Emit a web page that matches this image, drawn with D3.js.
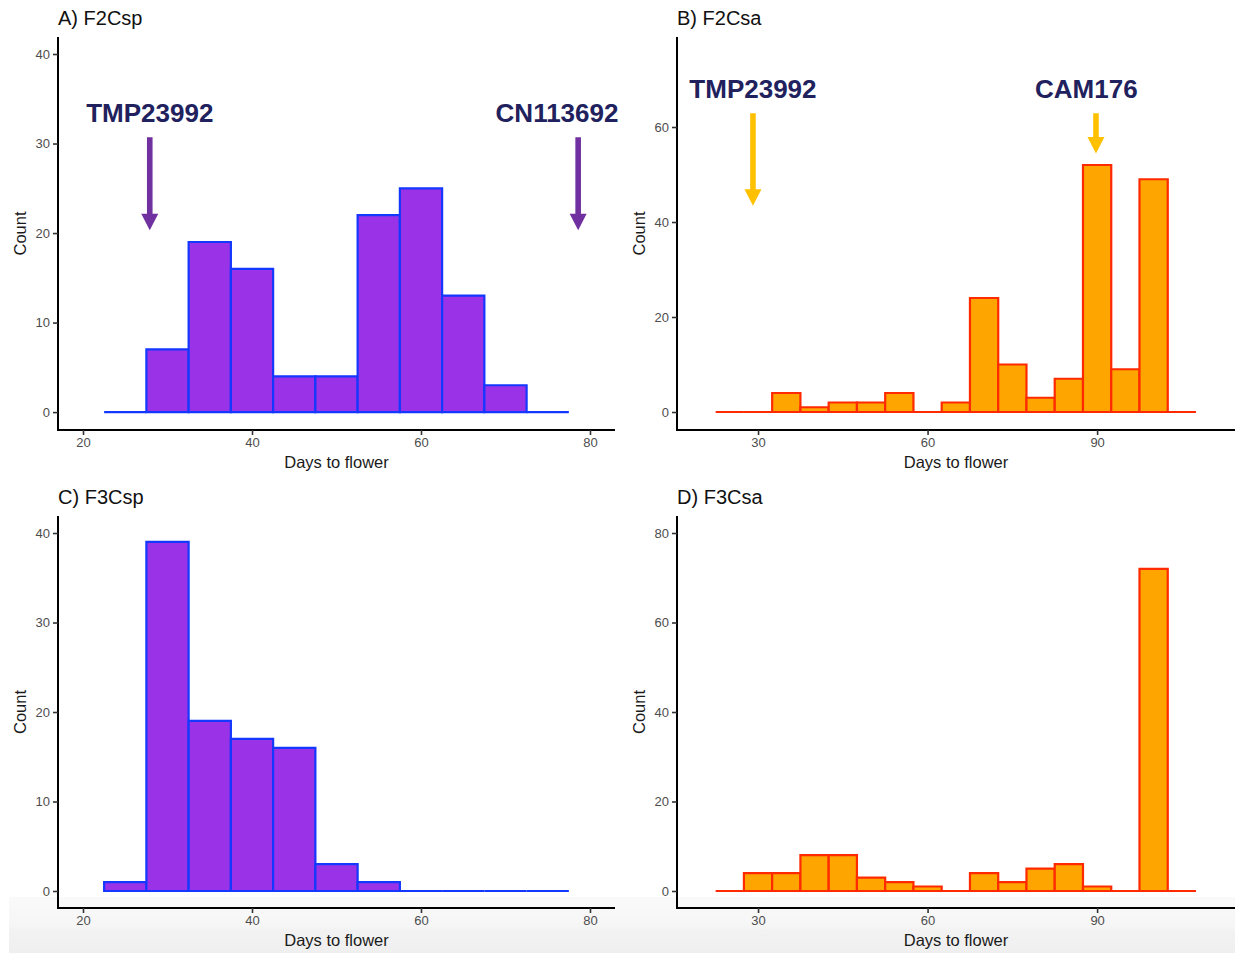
<!DOCTYPE html>
<html>
<head>
<meta charset="utf-8">
<script src="https://cdn.jsdelivr.net/npm/d3@7"></script>
<style>
  html, body { margin: 0; padding: 0; background: #fff; }
  svg { display: block; font-family: "Liberation Sans", Arial, Helvetica, sans-serif; }
</style>
</head>
<body>
<svg id="chart" width="1235" height="953"></svg>
<script>
// Histogram bins: 5-day wide bins, labelled by their centre (days to flower)
const binWidth = 5;
const spBinMids = [25, 30, 35, 40, 45, 50, 55, 60, 65, 70, 75];
const saBinMids = [25, 30, 35, 40, 45, 50, 55, 60, 65, 70, 75, 80, 85, 90, 95, 100, 105];

// Counts per bin
const f2cspCounts = [0, 7, 19, 16, 4, 4, 22, 25, 13, 3, 0];
const f3cspCounts = [1, 39, 19, 17, 16, 3, 1, 0, 0, 0, 0];
const f2csaCounts = [0, 0, 4, 1, 2, 2, 4, 0, 2, 24, 10, 3, 7, 52, 9, 49, 0];
const f3csaCounts = [0, 4, 4, 8, 8, 3, 2, 1, 0, 4, 2, 5, 6, 1, 0, 72, 0];

// Axis ticks
const spXTicks = [20, 40, 60, 80];
const saXTicks = [30, 60, 90];
const f2cspYTicks = [0, 10, 20, 30, 40];
const f3cspYTicks = [0, 10, 20, 30, 40];
const f2csaYTicks = [0, 20, 40, 60];
const f3csaYTicks = [0, 20, 40, 60, 80];

// Parent-line markers: label position and arrow (day, count from -> count to)
const f2cspMarkers = [
  { label: "TMP23992", labelX: 27.9, labelY: 32.4, x: 27.9, from: 30.7, to: 20.3 },
  { label: "CN113692", labelX: 76.1, labelY: 32.4, x: 78.6, from: 30.7, to: 20.3 }
];
const f2csaMarkers = [
  { label: "TMP23992", labelX: 29.1, labelY: 66.1, x: 29.1, from: 62.9, to: 43.4 },
  { label: "CAM176", labelX: 88.1, labelY: 66.1, x: 89.8, from: 62.9, to: 54.4 }
];

const spStyle = { fill: "#9a33e8", stroke: "#1438ff", arrow: "#7030a0" };
const saStyle = { fill: "#ffa500", stroke: "#ff2a00", arrow: "#ffc000" };

const panels = [
  { title: "A) F2Csp", mids: spBinMids, counts: f2cspCounts, xTicks: spXTicks, yTicks: f2cspYTicks,
    xDomain: [17.04, 82.96], yDomain: [-2.0, 41.9], box: [58, 615, 37, 430], style: spStyle, markers: f2cspMarkers },
  { title: "B) F2Csa", mids: saBinMids, counts: f2csaCounts, xTicks: saXTicks, yTicks: f2csaYTicks,
    xDomain: [15.66, 114.4], yDomain: [-3.79, 78.95], box: [677, 1235, 37, 430], style: saStyle, markers: f2csaMarkers },
  { title: "C) F3Csp", mids: spBinMids, counts: f3cspCounts, xTicks: spXTicks, yTicks: f3cspYTicks,
    xDomain: [17.04, 82.96], yDomain: [-1.9, 41.9], box: [58, 615, 516, 908], style: spStyle, markers: [] },
  { title: "D) F3Csa", mids: saBinMids, counts: f3csaCounts, xTicks: saXTicks, yTicks: f3csaYTicks,
    xDomain: [15.66, 114.4], yDomain: [-3.8, 83.8], box: [677, 1235, 516, 908], style: saStyle, markers: [] }
];

const svg = d3.select("#chart");

// soft grey band along the bottom of the figure
const defs = svg.append("defs");
const grad = defs.append("linearGradient").attr("id", "footShade")
  .attr("x1", 0).attr("x2", 0).attr("y1", 0).attr("y2", 1);
grad.append("stop").attr("offset", "0%").attr("stop-color", "#fafafa");
grad.append("stop").attr("offset", "50%").attr("stop-color", "#f6f6f6");
grad.append("stop").attr("offset", "62%").attr("stop-color", "#f2f2f2");
grad.append("stop").attr("offset", "100%").attr("stop-color", "#efefef");
svg.append("rect").attr("x", 9).attr("y", 897).attr("width", 1226).attr("height", 56)
  .attr("fill", "url(#footShade)");

panels.forEach(p => {
  const [left, right, top, bottom] = p.box;
  const x = d3.scaleLinear().domain(p.xDomain).range([left, right]);
  const y = d3.scaleLinear().domain(p.yDomain).range([bottom, top]);
  const g = svg.append("g");

  // bars (zero bins still show their outline along the baseline)
  g.selectAll("path.bar").data(p.mids.map((m, i) => ({ mid: m, count: p.counts[i] })))
    .join("path").attr("class", "bar")
    .attr("d", d => {
      const x0 = x(d.mid - binWidth / 2), x1 = x(d.mid + binWidth / 2);
      const y0 = y(0), y1 = y(d.count);
      return `M${x0},${y0}V${y1}H${x1}V${y0}Z`;
    })
    .attr("fill", p.style.fill)
    .attr("stroke", p.style.stroke)
    .attr("stroke-width", 2.2)
    .attr("stroke-linejoin", "miter");

  // axes
  const xAxis = d3.axisBottom(x).tickValues(p.xTicks).tickSize(5).tickSizeOuter(0).tickPadding(3);
  const yAxis = d3.axisLeft(y).tickValues(p.yTicks).tickSize(5).tickSizeOuter(0).tickPadding(3);
  const gx = g.append("g").attr("transform", `translate(0,${bottom})`).call(xAxis);
  const gy = g.append("g").attr("transform", `translate(${left},0)`).call(yAxis);
  [gx, gy].forEach(ax => {
    ax.select(".domain").attr("stroke", "#000").attr("stroke-width", 2);
    ax.selectAll(".tick line").attr("stroke", "#333").attr("stroke-width", 1.6);
    ax.selectAll(".tick text").attr("fill", "#4d4d4d").style("font-size", "13px")
      .style("font-family", "'Liberation Sans', Arial, sans-serif");
  });
  // extend the axis lines to meet at the corner
  gx.select(".domain").attr("d", `M${left - 1},0H${right}`);
  gy.select(".domain").attr("d", `M0,${top}V${bottom + 1}`);

  // axis titles
  g.append("text").attr("x", (left + right) / 2).attr("y", bottom + 38)
    .attr("text-anchor", "middle").attr("font-size", 16.5).attr("fill", "#1a1a1a")
    .text("Days to flower");
  g.append("text")
    .attr("transform", `translate(${left - 32},${(top + bottom) / 2}) rotate(-90)`)
    .attr("text-anchor", "middle").attr("font-size", 16.5).attr("fill", "#1a1a1a")
    .text("Count");

  // panel title
  g.append("text").attr("x", left).attr("y", top - 12)
    .attr("font-size", 20).attr("fill", "#111").text(p.title);

  // parent markers
  p.markers.forEach(m => {
    const ax = x(m.x), ya = y(m.from), yb = y(m.to);
    const head = 16.5, half = 8.5, shaft = 2.8;
    const yh = yb - head;
    g.append("path")
      .attr("d", `M${ax - shaft},${ya}V${yh}H${ax - half}L${ax},${yb}L${ax + half},${yh}H${ax + shaft}V${ya}Z`)
      .attr("fill", p.style.arrow);
    g.append("text").attr("x", x(m.labelX)).attr("y", y(m.labelY))
      .attr("text-anchor", "middle").attr("font-size", 26).attr("font-weight", "bold")
      .attr("fill", "#21215e").text(m.label);
  });
});
</script>
</body>
</html>
